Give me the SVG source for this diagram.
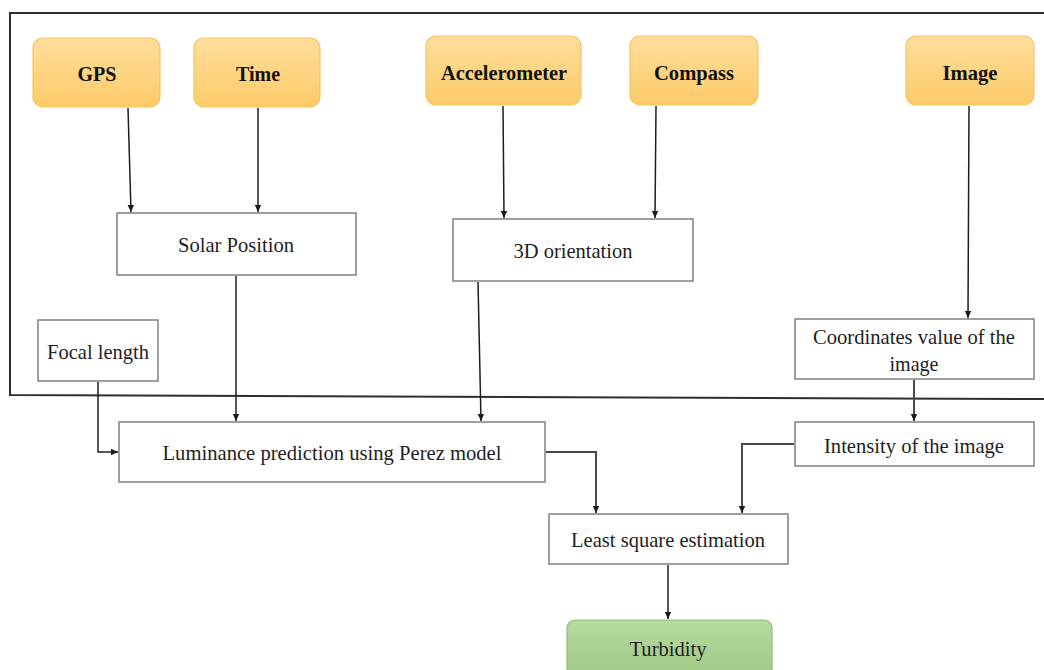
<svg xmlns="http://www.w3.org/2000/svg" width="1044" height="670" viewBox="0 0 1044 670">
<defs>
<linearGradient id="gOrange" x1="0" y1="0" x2="0" y2="1">
<stop offset="0" stop-color="#FFDE9C"/>
<stop offset="1" stop-color="#FCCB68"/>
</linearGradient>
<linearGradient id="gGreen" x1="0" y1="0" x2="0" y2="1">
<stop offset="0" stop-color="#B8DAA1"/>
<stop offset="1" stop-color="#9DC982"/>
</linearGradient>
<marker id="arr" markerWidth="8" markerHeight="8" refX="7" refY="4" orient="auto" markerUnits="userSpaceOnUse">
<path d="M0,0.8 L7,4 L0,7.2 Z" fill="#1a1a1a"/>
</marker>
</defs>
<style>
.src rect{fill:url(#gOrange);stroke:#F5C45E;stroke-width:1.2}
.box rect{fill:#fff;stroke:#808080;stroke-width:1.5}
.out rect{fill:url(#gGreen);stroke:#8FBE74;stroke-width:1.2}
text{font-family:"Liberation Serif","Times New Roman",serif;font-size:22px;fill:#1e1e24;text-anchor:middle}
.src text{font-weight:bold;fill:#111}
.c{fill:none;stroke:#1e1e1e;stroke-width:1.5;marker-end:url(#arr)}
.c2{fill:none;stroke:#4a4a4a;stroke-width:2;marker-end:url(#arr)}
.frame{fill:none;stroke:#2e2e2e;stroke-width:2}
</style>
<rect x="0" y="0" width="1044" height="670" fill="#fff"/>
<g id="frame">
<path class="frame" d="M1044,13 L10,13 L10,395 L1044,399"/>
</g>
<g id="gps" class="src"><rect x="33" y="38" width="127" height="69" rx="10"/><text x="97" y="81" textLength="39" lengthAdjust="spacingAndGlyphs">GPS</text></g>
<g id="time" class="src"><rect x="194" y="38" width="126" height="69" rx="10"/><text x="258" y="81" textLength="44" lengthAdjust="spacingAndGlyphs">Time</text></g>
<g id="accelerometer" class="src"><rect x="426" y="36" width="155" height="69" rx="10"/><text x="504" y="80" textLength="126" lengthAdjust="spacingAndGlyphs">Accelerometer</text></g>
<g id="compass" class="src"><rect x="630" y="36" width="128" height="69" rx="10"/><text x="694" y="80" textLength="80" lengthAdjust="spacingAndGlyphs">Compass</text></g>
<g id="image" class="src"><rect x="906" y="36" width="128" height="69" rx="10"/><text x="970" y="80" textLength="55" lengthAdjust="spacingAndGlyphs">Image</text></g>
<g id="solar" class="box"><rect x="117" y="213" width="239" height="62"/><text x="236" y="252" textLength="116" lengthAdjust="spacingAndGlyphs">Solar Position</text></g>
<g id="orientation" class="box"><rect x="453" y="219" width="240" height="62"/><text x="573" y="258" textLength="119" lengthAdjust="spacingAndGlyphs">3D orientation</text></g>
<g id="focal" class="box"><rect x="38" y="320" width="120" height="61"/><text x="98" y="359" textLength="102" lengthAdjust="spacingAndGlyphs">Focal length</text></g>
<g id="coords" class="box"><rect x="795" y="319" width="239" height="60"/><text x="914" y="344" textLength="202" lengthAdjust="spacingAndGlyphs">Coordinates value of the</text><text x="914" y="371" textLength="49" lengthAdjust="spacingAndGlyphs">image</text></g>
<g id="luminance" class="box"><rect x="119" y="422" width="426" height="60"/><text x="332" y="460" textLength="339" lengthAdjust="spacingAndGlyphs">Luminance prediction using Perez model</text></g>
<g id="intensity" class="box"><rect x="795" y="422" width="239" height="44"/><text x="914" y="453" textLength="180" lengthAdjust="spacingAndGlyphs">Intensity of the image</text></g>
<g id="leastsq" class="box"><rect x="549" y="514" width="239" height="50"/><text x="668" y="547" textLength="194" lengthAdjust="spacingAndGlyphs">Least square estimation</text></g>
<g id="turbidity" class="out"><rect x="567" y="620" width="205" height="60" rx="8"/><text x="668" y="656" textLength="77" lengthAdjust="spacingAndGlyphs">Turbidity</text></g>
<g id="connectors">
<path class="c" d="M128,108 L131,212"/>
<path class="c" d="M258,108 L258,212"/>
<path class="c" d="M503,106 L504,218"/>
<path class="c" d="M656,106 L655,218"/>
<path class="c" d="M969,106 L968,318"/>
<path class="c" d="M236,276 L236,421"/>
<path class="c" d="M478,282 L481,421"/>
<path class="c" d="M98,382 L98,452 L118,452"/>
<path class="c2" d="M546,452 L596,452 L596,513"/>
<path class="c2" d="M914,380 L914,421"/>
<path class="c2" d="M794,444 L742,444 L742,513"/>
<path class="c" d="M668,565 L668,619"/>
</g>
</svg>
